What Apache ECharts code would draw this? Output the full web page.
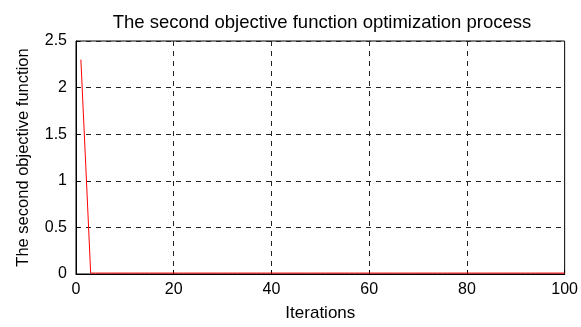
<!DOCTYPE html>
<html><head><meta charset="utf-8">
<script src="https://cdn.jsdelivr.net/npm/echarts@6/dist/echarts.min.js"></script>
<style>html,body{margin:0;padding:0;background:#fff}#c{width:581px;height:327px}</style>
</head><body><div id="c"></div>
<script>
const titleText = "The second objective function optimization process";
const xName = "Iterations";
const yName = "The second objective function";
const iterations = [1,2,3,4,5,6,7,8,9,10,11,12,13,14,15,16,17,18,19,20,21,22,23,24,25,26,27,28,29,30,31,32,33,34,35,36,37,38,39,40,41,42,43,44,45,46,47,48,49,50,51,52,53,54,55,56,57,58,59,60,61,62,63,64,65,66,67,68,69,70,71,72,73,74,75,76,77,78,79,80,81,82,83,84,85,86,87,88,89,90,91,92,93,94,95,96,97,98,99,100];
const objective2 = [2.3,1.16,0.01,0.01,0.01,0.01,0.01,0.01,0.01,0.01,0.01,0.01,0.01,0.01,0.01,0.01,0.01,0.01,0.01,0.01,0.01,0.01,0.01,0.01,0.01,0.01,0.01,0.01,0.01,0.01,0.01,0.01,0.01,0.01,0.01,0.01,0.01,0.01,0.01,0.01,0.01,0.01,0.01,0.01,0.01,0.01,0.01,0.01,0.01,0.01,0.01,0.01,0.01,0.01,0.01,0.01,0.01,0.01,0.01,0.01,0.01,0.01,0.01,0.01,0.01,0.01,0.01,0.01,0.01,0.01,0.01,0.01,0.01,0.01,0.01,0.01,0.01,0.01,0.01,0.01,0.01,0.01,0.01,0.01,0.01,0.01,0.01,0.01,0.01,0.01,0.01,0.01,0.01,0.01,0.01,0.01,0.01,0.01,0.01,0.01];

const font = 'Liberation Sans, Arial, sans-serif';
const chart = echarts.init(document.getElementById('c'), null, {renderer:'canvas'});
const pairs = iterations.map((x,i)=>[x, objective2[i]]);
const grid = {left:76, right:14, top:41, bottom:48, show:true, borderColor:'#000', borderWidth:1, backgroundColor:'transparent'};
const splitLine = {show:true, lineStyle:{color:'#222', type:[5,5], width:1}};
chart.setOption({
  animation:false,
  title:{text:titleText, left:317, top:8, textAlign:'center',
    textStyle:{fontFamily:font, fontSize:18.5, fontWeight:'normal', color:'#000'}},
  grid:grid,
  xAxis:{type:'value', min:0, max:100, interval:20, name:xName, nameLocation:'middle', nameGap:31,
    nameTextStyle:{fontFamily:font, fontSize:17, color:'#000'},
    axisLine:{show:true, lineStyle:{color:'#000'}},
    axisTick:{show:true, inside:true, length:4, lineStyle:{color:'#000'}},
    axisLabel:{fontFamily:font, fontSize:16, color:'#000', margin:8},
    splitLine:splitLine},
  yAxis:{type:'value', min:0, max:2.5, interval:0.5, name:yName, nameLocation:'middle', nameGap:44, nameRotate:90,
    nameTextStyle:{fontFamily:font, fontSize:16.5, color:'#000'},
    axisLine:{show:true, lineStyle:{color:'#000'}},
    axisTick:{show:true, inside:true, length:4, lineStyle:{color:'#000'}},
    axisLabel:{fontFamily:font, fontSize:16, color:'#000', margin:9},
    splitLine:splitLine},
  series:[{type:'line', data:pairs, showSymbol:false, symbol:'none',
    lineStyle:{color:'#ff0000', width:1}, itemStyle:{color:'#ff0000'}}]
});
</script></body></html>
